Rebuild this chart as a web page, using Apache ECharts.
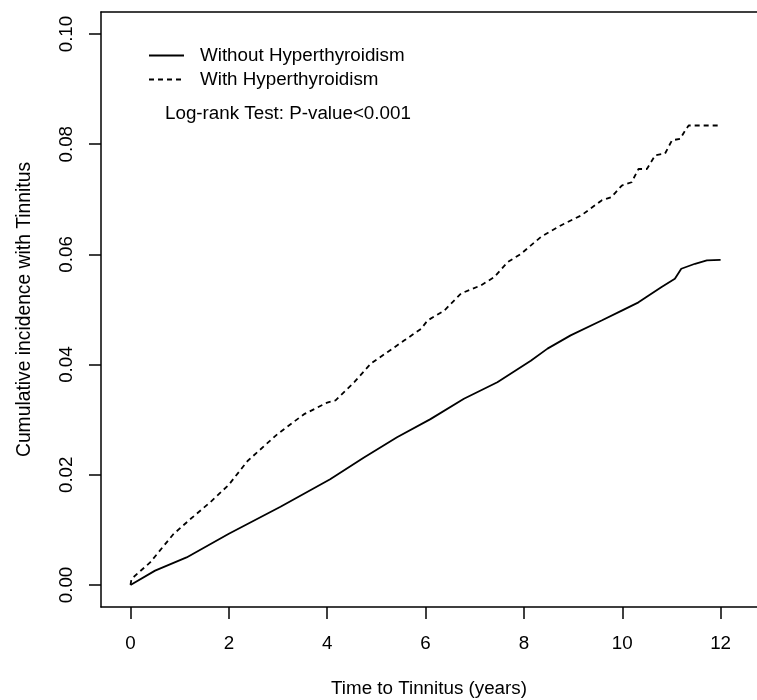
<!DOCTYPE html>
<html>
<head>
<meta charset="utf-8">
<script src="https://cdn.jsdelivr.net/npm/echarts@6/dist/echarts.min.js"></script>
<style>
html,body{margin:0;padding:0;background:#fff;}
#chart{width:757px;height:700px;}
</style>
</head>
<body>
<div id="chart"></div>
<script>
// Without Hyperthyroidism (solid)
var timeWithout = [0, 0.5, 1.14, 2, 3.05, 4.06, 4.74, 5.42, 6.10, 6.78, 7.46, 8.14, 8.48, 8.95, 9.58, 9.99, 10.33, 10.53, 10.8, 11.07, 11.2, 11.48, 11.72, 12.0];
var incWithout = [0, 0.0026, 0.0050, 0.0093, 0.0142, 0.0192, 0.0231, 0.0268, 0.0301, 0.0338, 0.0368, 0.0407, 0.0429, 0.0453, 0.0480, 0.0498, 0.0513, 0.0525, 0.0541, 0.0556, 0.0574, 0.0583, 0.0589, 0.0590];
// With Hyperthyroidism (dashed)
var timeWith = [0, 0.02, 0.4, 0.87, 1.21, 1.62, 2, 2.38, 2.99, 3.53, 4.0, 4.17, 4.55, 4.89, 5.23, 5.57, 5.91, 6.04, 6.38, 6.72, 7.13, 7.4, 7.67, 7.94, 8.35, 8.76, 9.17, 9.58, 9.78, 9.99, 10.19, 10.33, 10.5, 10.67, 10.87, 11.01, 11.18, 11.28, 11.35, 12.0];
var incWith = [0, 0.0011, 0.0041, 0.0092, 0.0119, 0.0150, 0.0182, 0.0225, 0.0274, 0.0310, 0.0331, 0.0335, 0.0368, 0.0402, 0.0423, 0.0444, 0.0465, 0.0480, 0.0498, 0.0529, 0.0544, 0.0559, 0.0586, 0.0601, 0.0632, 0.0653, 0.0671, 0.0698, 0.0704, 0.0725, 0.0731, 0.0755, 0.0755, 0.0780, 0.0783, 0.0807, 0.0810, 0.0825, 0.0834, 0.0834];
// tick labels
var xTicks = [0, 2, 4, 6, 8, 10, 12];
var yTicks = [0, 0.02, 0.04, 0.06, 0.08, 0.10];

function pairs(t, v){
	var out = [];
	for (var i = 0; i < t.length; i++){
		out.push([t[i], v[i]]);
	}
	return out;
}

var font = 'Liberation Sans, Arial, sans-serif';
var fs = 18.8;
var boxLine = { show: true, onZero: false, lineStyle: { color: '#000', width: 1.5 } };
var myChart = echarts.init(document.getElementById('chart'));
myChart.setOption({
	backgroundColor: '#fff',
	animation: false,
	textStyle: { fontFamily: font, color: '#000' },
	grid: {
		left: 101,
		top: 12,
		bottom: 93,
		right: 0,
		outerBoundsMode: 'none',
		containLabel: false
	},
	title: {
		text: 'Log-rank Test: P-value<0.001',
		left: 165,
		top: 104,
		padding: 0,
		textStyle: { fontFamily: font, fontSize: fs, fontWeight: 'normal', color: '#000' }
	},
	legend: {
		orient: 'vertical',
		left: 148,
		top: 46,
		padding: 0,
		itemWidth: 35,
		itemHeight: 18,
		itemGap: 5,
		itemStyle: { opacity: 0 },
		textStyle: { fontFamily: font, fontSize: fs, color: '#000', padding: [0, 0, 0, 11] },
		data: ['Without Hyperthyroidism', 'With Hyperthyroidism']
	},
	xAxis: [
		{
			type: 'value',
			min: -0.6,
			max: 12.74,
			name: 'Time to Tinnitus (years)',
			nameLocation: 'middle',
			nameGap: 72,
			nameTextStyle: { fontFamily: font, fontSize: fs, color: '#000' },
			axisLine: boxLine,
			splitLine: { show: false },
			axisTick: { show: true, length: 12, customValues: xTicks, lineStyle: { color: '#000', width: 1.5 } },
			axisLabel: { customValues: xTicks, margin: 27, fontFamily: font, fontSize: fs, color: '#000' }
		},
		{
			// top edge of the box
			type: 'value',
			position: 'top',
			min: -0.6,
			max: 12.74,
			axisLine: boxLine,
			axisTick: { show: false },
			axisLabel: { show: false },
			splitLine: { show: false }
		}
	],
	yAxis: {
		type: 'value',
		min: -0.004,
		max: 0.104,
		name: 'Cumulative incidence with Tinnitus',
		nameLocation: 'middle',
		nameGap: 67,
		nameTextStyle: { fontFamily: font, fontSize: 19.3, color: '#000' },
		axisLine: boxLine,
		splitLine: { show: false },
		axisTick: { show: true, length: 12, customValues: yTicks, lineStyle: { color: '#000', width: 1.5 } },
		axisLabel: {
			customValues: yTicks,
			rotate: 90,
			margin: 25,
			fontFamily: font,
			fontSize: fs,
			color: '#000',
			formatter: function (v){ return v.toFixed(2); }
		}
	},
	series: [
		{
			name: 'Without Hyperthyroidism',
			type: 'line',
			symbol: 'none',
			lineStyle: { color: '#000', width: 1.8, type: 'solid' },
			itemStyle: { color: '#000' },
			data: pairs(timeWithout, incWithout)
		},
		{
			name: 'With Hyperthyroidism',
			type: 'line',
			symbol: 'none',
			lineStyle: { color: '#000', width: 1.8, type: [5, 4] },
			itemStyle: { color: '#000' },
			data: pairs(timeWith, incWith)
		}
	]
});
</script>
</body>
</html>
